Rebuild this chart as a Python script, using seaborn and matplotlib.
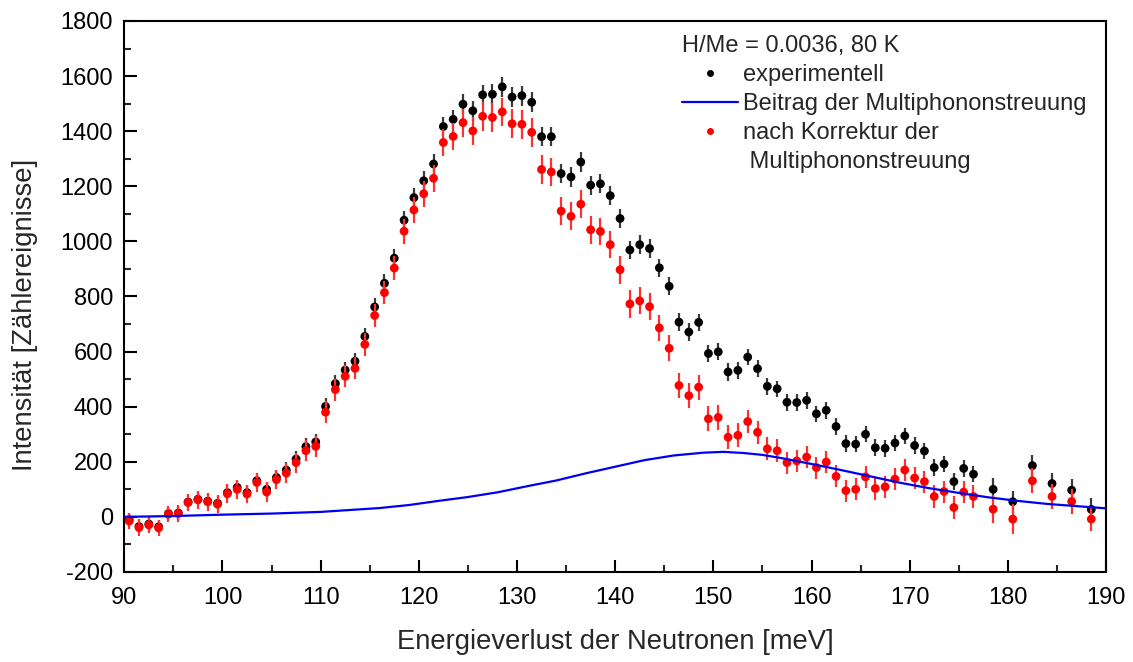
import numpy as np
import pandas as pd
import matplotlib
matplotlib.use("Agg")
import matplotlib.pyplot as plt
from matplotlib.lines import Line2D
from matplotlib.ticker import MultipleLocator
import seaborn as sns

# ---------------- data ----------------
energy = [90.5, 91.5, 92.5, 93.5, 94.5, 95.5, 96.5, 97.5, 98.5, 99.5,
          100.5, 101.5, 102.5, 103.5, 104.5, 105.5, 106.5, 107.5, 108.5, 109.5,
          110.5, 111.5, 112.5, 113.5, 114.5, 115.5, 116.5, 117.5, 118.5, 119.5,
          120.5, 121.5, 122.5, 123.5, 124.5, 125.5, 126.5, 127.5, 128.5, 129.5,
          130.5, 131.5, 132.5, 133.5, 134.5, 135.5, 136.5, 137.5, 138.5, 139.5,
          140.5, 141.5, 142.5, 143.5, 144.5, 145.5, 146.5, 147.5, 148.5, 149.5,
          150.5, 151.5, 152.5, 153.5, 154.5, 155.5, 156.5, 157.5, 158.5, 159.5,
          160.5, 161.5, 162.5, 163.5, 164.5, 165.5, 166.5, 167.5, 168.5, 169.5,
          170.5, 171.5, 172.5, 173.5, 174.5, 175.5, 176.5,
          178.5, 180.5, 182.5, 184.5, 186.5, 188.5]

experimentell = [-10, -35, -26, -36, 12, 14, 54, 64, 57, 49,
                 88, 107, 88, 131, 100, 143, 170, 210, 255, 272,
                 401, 484, 533, 565, 655, 762, 848, 939, 1077, 1159,
                 1220, 1281, 1417, 1443, 1498, 1474, 1532, 1534, 1561, 1524,
                 1529, 1505, 1380, 1380, 1246, 1234, 1288, 1204, 1209, 1166,
                 1083, 969, 988, 974, 904, 837, 707, 671, 706, 593,
                 599, 526, 532, 580, 538, 474, 465, 416, 415, 423,
                 374, 387, 328, 266, 264, 300, 251, 249, 268, 294,
                 259, 239, 179, 192, 128, 176, 155,
                 100, 55, 186, 121, 97, 27]

korrigiert = [-15, -39, -29, -40, 10, 12, 52, 62, 55, 46,
              84, 100, 83, 125, 90, 135, 159, 197, 240, 256,
              380, 462, 510, 539, 626, 731, 814, 903, 1037, 1114,
              1173, 1229, 1359, 1381, 1431, 1401, 1454, 1450, 1470, 1427,
              1425, 1396, 1261, 1252, 1110, 1091, 1135, 1042, 1036, 988,
              897, 773, 784, 763, 686, 612, 477, 440, 471, 356,
              361, 289, 296, 346, 307, 247, 240, 197, 203, 217,
              179, 199, 147, 95, 100, 145, 103, 109, 137, 170,
              141, 128, 74, 92, 34, 90, 74,
              28, -8, 131, 74, 56, -8]

fehler_exp = [25, 25, 25, 25, 25, 25, 25, 25, 25, 25,
              28, 28, 28, 28, 28, 28, 28, 28, 30, 30,
              30, 30, 30, 30, 32, 32, 32, 33, 33, 34,
              34, 35, 35, 35, 36, 36, 36, 36, 36, 36,
              36, 36, 35, 35, 35, 35, 35, 35, 35, 34,
              34, 34, 34, 33, 33, 33, 32, 32, 32, 31,
              31, 31, 31, 30, 30, 30, 30, 30, 30, 30,
              30, 30, 30, 30, 30, 30, 30, 30, 30, 30,
              30, 30, 30, 30, 30, 30, 30,
              40, 40, 40, 40, 40, 40]

fehler_korr = [30, 30, 30, 30, 30, 30, 32, 32, 32, 32,
               34, 34, 34, 34, 35, 35, 36, 36, 38, 38,
               40, 40, 40, 40, 42, 42, 43, 44, 45, 46,
               47, 48, 50, 50, 51, 52, 52, 52, 52, 52,
               52, 52, 51, 51, 51, 51, 51, 51, 50, 50,
               50, 50, 49, 48, 48, 47, 46, 46, 45, 45,
               44, 44, 43, 43, 42, 42, 42, 40, 40, 40,
               40, 40, 40, 40, 40, 40, 40, 40, 40, 40,
               40, 40, 40, 40, 40, 40, 42,
               50, 55, 45, 45, 45, 45]

kurve_x = [90, 95, 100, 105, 110, 113, 116, 119, 122, 125, 128, 131, 134, 137,
           140, 143, 146, 149, 151, 153, 155, 157, 160, 163, 166, 169, 172,
           175, 178, 181, 184, 187, 190]
kurve_y = [0, 3, 8, 12, 18, 25, 32, 43, 58, 72, 89, 111, 132, 158,
           182, 206, 223, 233, 236, 232, 225, 213, 192, 170, 147, 124, 104,
           87, 71, 58, 47, 39, 31]

x_ticks = [90, 100, 110, 120, 130, 140, 150, 160, 170, 180, 190]
y_ticks = [-200, 0, 200, 400, 600, 800, 1000, 1200, 1400, 1600, 1800]

legend_title = "H/Me = 0.0036, 80 K"
label_exp = "experimentell"
label_kurve = "Beitrag der Multiphononstreuung"
label_korr_1 = "nach Korrektur der"
label_korr_2 = " Multiphononstreuung"

# ---------------- plot ----------------
sns.set_theme(style="ticks")
plt.rcParams['font.family'] = ['Liberation Sans', 'DejaVu Sans']
plt.rcParams['font.size'] = 17
plt.rcParams['axes.unicode_minus'] = False

df_exp = pd.DataFrame({"E": energy, "I": experimentell, "err": fehler_exp})
df_korr = pd.DataFrame({"E": energy, "I": korrigiert, "err": fehler_korr})
df_kurve = pd.DataFrame({"E": kurve_x, "I": kurve_y})

fig = plt.figure(figsize=(11.33, 6.62), dpi=100)
ax = fig.add_axes([0.1097, 0.136, 0.8665, 0.8323])

ax.errorbar(df_exp["E"], df_exp["I"], yerr=df_exp["err"], fmt="none",
            ecolor="#3a3a3a", elinewidth=1.6, capsize=0, zorder=2)
sns.scatterplot(data=df_exp, x="E", y="I", color="black", s=40,
                edgecolor="none", ax=ax, zorder=3)
ax.errorbar(df_korr["E"], df_korr["I"], yerr=df_korr["err"], fmt="none",
            ecolor="#ff3030", elinewidth=1.6, capsize=0, zorder=4)
sns.scatterplot(data=df_korr, x="E", y="I", color="#ff0000", s=40,
                edgecolor="none", ax=ax, zorder=5)
sns.lineplot(data=df_kurve, x="E", y="I", color="#0000f0", linewidth=1.6,
             ax=ax, zorder=6)

ax.set_xlim(90, 190)
ax.set_ylim(-200, 1800)
ax.set_xticks(x_ticks)
ax.set_yticks(y_ticks)
ax.xaxis.set_minor_locator(MultipleLocator(5))
ax.yaxis.set_minor_locator(MultipleLocator(100))
ax.tick_params(axis="both", which="major", direction="in", length=9,
               width=1.5, labelsize=17, colors="black", pad=8)
ax.tick_params(axis="both", which="minor", direction="in", length=5,
               width=1.5)
ax.tick_params(axis="x", which="major", pad=11)
for sp in ax.spines.values():
    sp.set_visible(True)
    sp.set_linewidth(1.5)
    sp.set_color("black")

ax.set_xlabel("Energieverlust der Neutronen [meV]", fontsize=19.7, labelpad=14)
ax.set_ylabel("Intensität [Zählereignisse]", fontsize=19.7)
ax.yaxis.set_label_coords(-0.088, 0.466)

handles = [
    Line2D([], [], linestyle="none", marker="o", color="black", markersize=4),
    Line2D([], [], color="#0000f0", linewidth=1.6),
    Line2D([], [], linestyle="none", marker="o", color="#ff0000", markersize=4),
    Line2D([], [], linestyle="none", marker=None, color="none"),
]
leg = ax.legend(handles, [label_exp, label_kurve, label_korr_1, label_korr_2],
                title=legend_title, loc="upper left",
                bbox_to_anchor=(0.551, 1.005), frameon=False,
                fontsize=17, title_fontsize=17, handlelength=2.4,
                handletextpad=0.2, labelspacing=0.3, alignment="left",
                borderaxespad=0.3)

fig.savefig("out.png", dpi=100)
